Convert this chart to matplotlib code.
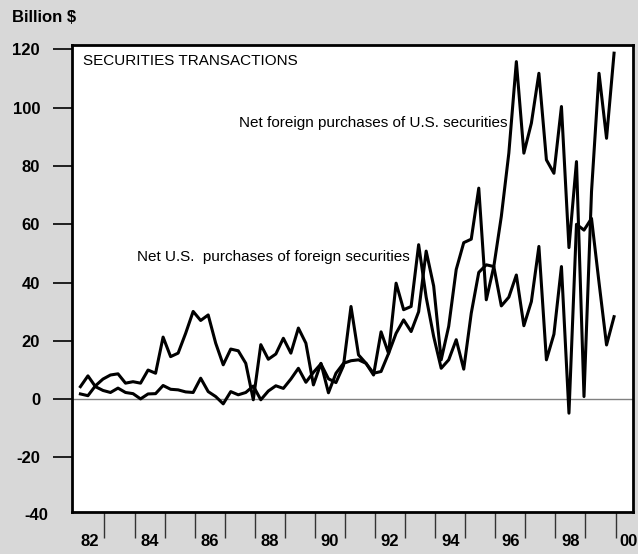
import matplotlib
matplotlib.use('agg')
import numpy as np
import matplotlib.pyplot as plt

# quarterly values, 1982Q1 .. 1999Q4, billion $
us_securities = [1.8, 1.2, 4.6, 6.9, 8.3, 8.7, 5.5, 6.0,
                 5.5, 10.0, 8.9, 21.3, 14.6, 15.8, 22.6, 30.1,
                 27.0, 28.9, 19.2, 11.8, 17.2, 16.6, 12.3, -0.2,
                 18.7, 13.7, 15.5, 20.9, 15.8, 24.4, 19.2, 4.9,
                 12.3, 2.2, 8.9, 12.3, 13.2, 13.5, 12.3, 8.9,
                 9.5, 15.7, 22.6, 27.2, 23.2, 30.0, 50.8, 38.8,
                 13.5, 25.0, 44.5, 53.7, 54.9, 72.4, 34.1, 45.5,
                 62.7, 84.4, 115.8, 84.4, 94.7, 111.8, 82.1, 77.5,
                 100.4, 52.0, 81.5, 0.9, 71.2, 111.8, 89.5, 118.7]

foreign_securities = [4.3, 8.0, 4.3, 3.0, 2.3, 3.8, 2.3, 1.9,
                      0.1, 1.8, 1.9, 4.7, 3.4, 3.2, 2.5, 2.3,
                      7.2, 2.6, 0.9, -1.6, 2.6, 1.5, 2.3, 4.5,
                      -0.2, 2.8, 4.6, 3.7, 6.9, 10.6, 5.8, 9.2,
                      12.1, 7.0, 5.7, 11.5, 31.8, 15.2, 12.3, 8.3,
                      23.1, 15.7, 39.8, 30.7, 31.8, 53.0, 35.0, 21.5,
                      10.6, 13.5, 20.4, 10.3, 29.5, 43.5, 46.1, 45.5,
                      32.0, 35.0, 42.6, 25.2, 33.5, 52.4, 13.5, 22.3,
                      45.5, -4.8, 60.0, 58.0, 62.0, 40.0, 18.6, 28.3]

year_labels = ['82', '84', '86', '88', '90', '92', '94', '96', '98', '00']
label_pos = [1982.5, 1984.5, 1986.5, 1988.5, 1990.5, 1992.5, 1994.5,
             1996.5, 1998.5, 2000.42]
y_ticks = [-20, 0, 20, 40, 60, 80, 100, 120]

first_year = 1982
quarters = first_year + (np.arange(len(us_securities)) + 0.8) / 4.0

font = ['Liberation Sans', 'DejaVu Sans']

fig = plt.figure(figsize=(6.38, 5.54), dpi=100, facecolor='#d8d8d8')
ax = fig.add_axes([72/638, 1-512/554, (633-72)/638, (512-45.3)/554])
ax.set_facecolor('white')

ax.axhline(0, color='#808080', lw=1.0, zorder=1)
ax.plot(quarters, us_securities, color='black', lw=2.2, zorder=3)
ax.plot(quarters, foreign_securities, color='black', lw=2.2, zorder=3)

ax.set_xlim(1981.92, 2000.58)
ax.set_ylim(-38.7, 121.4)

for s in ax.spines.values():
    s.set_linewidth(2.0)
    s.set_color('black')

# y axis
ax.set_yticks(y_ticks)
ax.set_yticklabels([str(v) for v in y_ticks])
ax.tick_params(axis='y', direction='out', length=14, width=1.2, pad=9,
               labelsize=12)
for lab in ax.get_yticklabels():
    lab.set_fontfamily(font)
    lab.set_fontweight('bold')
ax.text(-0.043, -40, '-40', transform=ax.get_yaxis_transform(), ha='right',
        va='center', fontsize=12, fontweight='bold', family=font,
        clip_on=False)

# x axis: year boundaries as ticks, labels centred in the year
ax.set_xticks(np.arange(1983, 2001))
ax.set_xticklabels([])
ax.set_xticks(label_pos, minor=True)
ax.set_xticklabels(year_labels, minor=True)
ax.tick_params(axis='x', which='major', direction='out', length=19,
               width=1.0, color='#333333')
ax.tick_params(axis='x', which='minor', length=0, pad=16, labelsize=12)
for lab in ax.get_xticklabels(minor=True):
    lab.set_fontfamily(font)
    lab.set_fontweight('bold')

ax.text(1982.28, 116.1, 'SECURITIES TRANSACTIONS', ha='left', va='center',
        fontsize=11, family=font)
ax.text(1996.39, 94.9, 'Net foreign purchases of U.S. securities',
        ha='right', va='center', fontsize=11, family=font)
ax.text(1993.16, 48.8, 'Net U.S.  purchases of foreign securities',
        ha='right', va='center', fontsize=11, family=font)

fig.text(12/638, 1-18/554, 'Billion $', ha='left', va='center',
         fontsize=12, fontweight='bold', family=font)

fig.savefig('out.png', dpi=100, facecolor=fig.get_facecolor())
